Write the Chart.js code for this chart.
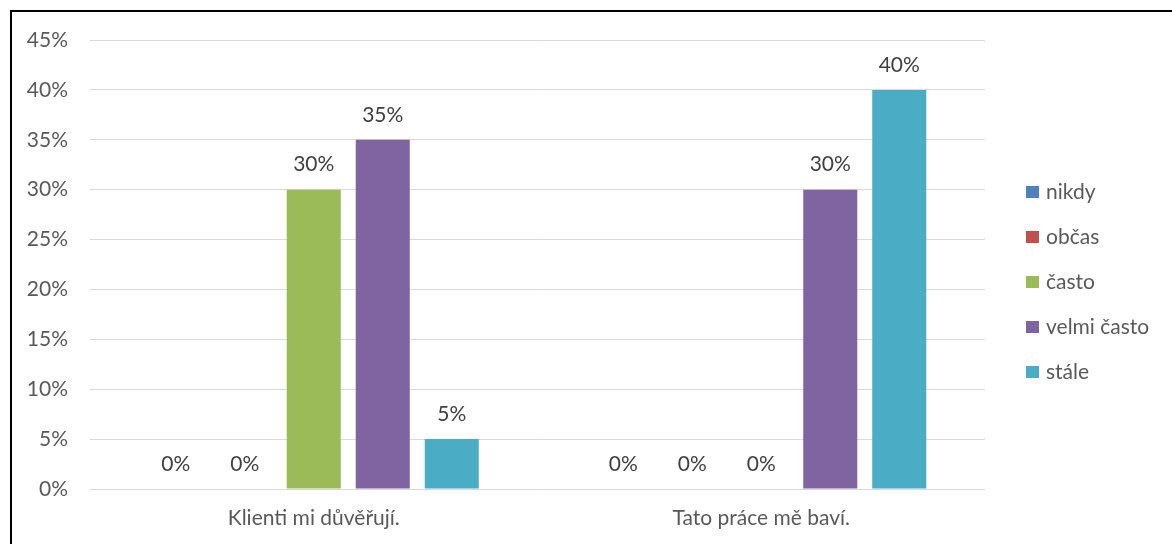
<!DOCTYPE html>
<html lang="cs">
<head>
<meta charset="utf-8">
<title>Klienti mi důvěřují / Tato práce mě baví</title>
<script src="https://cdn.jsdelivr.net/npm/chart.js@4/dist/chart.umd.min.js"></script>
<style>
  html, body { margin: 0; padding: 0; background: #fff; overflow: hidden; }
  #wrap { position: relative; width: 1172px; height: 544px; }
  #frame {
    position: absolute; left: 10px; top: 10px;
    width: 1300px; height: 700px;
    border: 2px solid #000; box-sizing: border-box; pointer-events: none;
  }
  canvas { position: absolute; left: 0; top: 0; }
</style>
</head>
<body>
<div id="wrap">
  <canvas id="chart" width="1172" height="544"></canvas>
  <div id="frame"></div>
</div>
<script>
// Statements (categories on the x axis)
const categories = ['Klienti mi důvěřují.', 'Tato práce mě baví.'];

// Answer options (one series each)
const seriesNames = ['nikdy', 'občas', 'často', 'velmi často', 'stále'];

// Share of respondents in %, per statement
const nikdy      = [0, 0];
const obcas      = [0, 0];
const casto      = [30, 0];
const velmiCasto = [35, 30];
const stale      = [5, 40];

// Y axis ticks (%)
const yTicks = [0, 5, 10, 15, 20, 25, 30, 35, 40, 45];

const seriesValues = [nikdy, obcas, casto, velmiCasto, stale];
const seriesColors = ['#4F81BD', '#C0504D', '#9BBB59', '#8064A2', '#4BACC6'];

const FONT = 'Lato, "Open Sans", sans-serif';
const AXIS_COLOR = '#595959';

// Value labels above every bar
const valueLabels = {
  id: 'valueLabels',
  afterDatasetsDraw(chart) {
    const ctx = chart.ctx;
    ctx.save();
    ctx.font = '21px ' + FONT;
    ctx.fillStyle = '#404040';
    ctx.textAlign = 'center';
    ctx.textBaseline = 'middle';
    chart.data.datasets.forEach((ds, i) => {
      const meta = chart.getDatasetMeta(i);
      meta.data.forEach((bar, j) => {
        ctx.fillText(ds.data[j] + '%', bar.x, bar.y - 25);
      });
    });
    ctx.restore();
  }
};

// Legend column to the right of the plot
const sideLegend = {
  id: 'sideLegend',
  afterDraw(chart) {
    const ctx = chart.ctx;
    const x = chart.chartArea.right + 41;
    const y0 = 192;
    const step = 45;
    ctx.save();
    ctx.font = '21px ' + FONT;
    ctx.textAlign = 'left';
    ctx.textBaseline = 'middle';
    chart.data.datasets.forEach((ds, i) => {
      const y = y0 + i * step;
      ctx.fillStyle = ds.backgroundColor;
      ctx.fillRect(x, y - 6, 13, 12);
      ctx.fillStyle = AXIS_COLOR;
      ctx.fillText(ds.label, x + 20, y);
    });
    ctx.restore();
  }
};

new Chart(document.getElementById('chart'), {
  type: 'bar',
  data: {
    labels: categories,
    datasets: seriesNames.map((name, i) => ({
      label: name,
      data: seriesValues[i],
      backgroundColor: seriesColors[i],
      borderWidth: 0,
      categoryPercentage: 0.771,
      barPercentage: 0.783
    }))
  },
  options: {
    responsive: false,
    animation: false,
    devicePixelRatio: 1,
    layout: { padding: { left: 0, top: 40, right: 187, bottom: 0 } },
    plugins: {
      legend: { display: false },
      tooltip: { enabled: false }
    },
    scales: {
      x: {
        grid: { display: false, drawTicks: false },
        border: { display: false },
        ticks: {
          color: AXIS_COLOR,
          font: { family: FONT, size: 21 },
          padding: 17,
          maxRotation: 0
        },
        afterFit(scale) { scale.height = 55; }
      },
      y: {
        min: 0,
        max: 45,
        afterBuildTicks(scale) { scale.ticks = yTicks.map(v => ({ value: v })); },
        grid: { color: '#D9D9D9', lineWidth: 1, drawTicks: false },
        border: { display: false },
        ticks: {
          color: AXIS_COLOR,
          font: { family: FONT, size: 21 },
          padding: 22,
          callback: v => v + '%'
        },
        afterFit(scale) { scale.width = 90; }
      }
    }
  },
  plugins: [valueLabels, sideLegend]
});
</script>
</body>
</html>
